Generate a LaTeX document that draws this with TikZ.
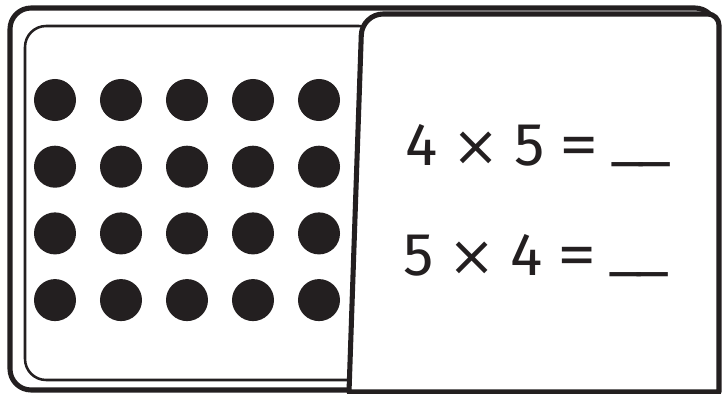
\documentclass[tikz,border=0pt]{standalone}
\usepackage{graphicx}
\usepackage{fontspec}
\setmainfont{Fira Sans}
\newfontfamily\signfont{DejaVu Sans}
\usetikzlibrary{positioning}
\definecolor{ink}{RGB}{35,31,32}
\newcommand{\tms}{\hspace{0.25em}{\signfont\fontsize{40}{50}\selectfont ×}\hspace{0.24em}}
\newcommand{\eqs}{\hspace{0.24em}\scalebox{1.3}[1]{=}\hspace{0.23em}}
\newcommand{\gap}{\raisebox{9pt}{\signfont\_\hspace{-0.05em}\_}}

\begin{document}
\begin{tikzpicture}[x=0.025cm,y=-0.025cm,
tray/.style={draw=ink,line width=3.6pt,rounded corners=15pt},
well/.style={draw=ink,line width=1.8pt,rounded corners=15pt},
card/.style={draw=ink,fill=white,line width=3.6pt,line join=round},
dot/.style={circle,fill=ink,minimum size=1.05cm,inner sep=0pt},
sum/.style={anchor=base west,inner sep=0pt,text=ink,font=\fontsize{43}{50}\selectfont}]
\useasboundingbox (0,0) rectangle (723,394);
\draw[tray] (10,8) rectangle (716,390);
\draw[well] (25,26) rectangle (380,380);
% dot array 4 rows x 5 columns
\foreach \r in {0,...,3}
  \foreach \c in {0,...,4}
    \node[dot] (d\r\c) at (55+66*\c,100+66.7*\r) {};
% card over the tray
\draw[card] (349,392) [rounded corners=15pt] -- (362,14) [rounded corners=8pt] -- (719,14) [sharp corners] -- (719,392) -- cycle;
\node[sum] (eqa) at (405,165) {4\tms5\eqs\gap};
\node[sum] (eqb) at (403,275) {5\tms4\eqs\gap};
\end{tikzpicture}
\end{document}
